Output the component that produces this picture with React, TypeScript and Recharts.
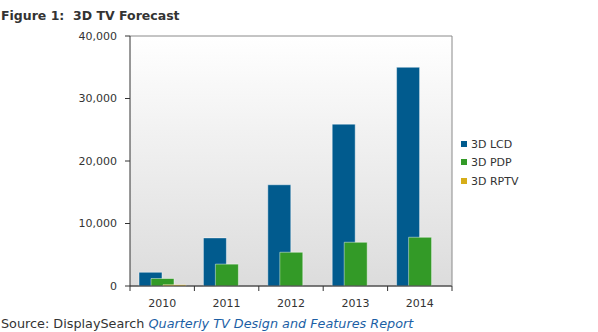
import React from 'react';
import { BarChart, Bar, XAxis, YAxis, CartesianGrid } from 'recharts';

const categories = ['2010', '2011', '2012', '2013', '2014'];
const lcdValues = [2200, 7700, 16200, 25900, 35000];
const pdpValues = [1200, 3500, 5400, 7000, 7800];
const rptvValues = [200, 0, 0, 0, 0];
const yTicks = [0, 10000, 20000, 30000, 40000];

const seriesNames = ['3D LCD', '3D PDP', '3D RPTV'];
const seriesKeys = ['lcd', 'pdp', 'rptv'];
const seriesColors = ['#015b8e', '#339a27', '#d6ad18'];

const data = categories.map((c, i) => ({
  year: c,
  lcd: lcdValues[i],
  pdp: pdpValues[i],
  rptv: rptvValues[i],
}));

const FONT = '"DejaVu Sans", Verdana, sans-serif';

const XTick = (props: any) => {
  const { x, y, payload, index, visibleTicksCount } = props;
  const half = payload && payload.offset ? payload.offset : 32.2;
  const isLast = index === (visibleTicksCount ?? categories.length) - 1;
  return (
    <g>
      <line x1={x - half} x2={x - half} y1={y} y2={y + 5} stroke="#333" strokeWidth={1} />
      {isLast && <line x1={x + half} x2={x + half} y1={y} y2={y + 5} stroke="#333" strokeWidth={1} />}
      <text x={x} y={y + 21} textAnchor="middle" fontSize={11} fill="#333" fontFamily={FONT}>
        {payload.value}
      </text>
    </g>
  );
};

export default function App() {
  return (
    <div style={{ position: 'absolute', left: 0, top: 0, width: 598, height: 332, background: '#fff', fontFamily: FONT, overflow: 'hidden' }}>
      <div style={{ position: 'absolute', left: 1, top: 8, fontSize: 12.5, lineHeight: '15px', fontWeight: 'bold', color: '#333', whiteSpace: 'pre' }}>
        {'Figure 1:  3D TV Forecast'}
      </div>
      <div style={{ position: 'absolute', left: 0, top: 0 }}>
        <BarChart
          width={598}
          height={332}
          data={data}
          margin={{ top: 36, right: 0, bottom: 0, left: 0 }}
          barSize={23}
          barGap={-11}
        >
          <defs>
            <linearGradient id="plotBg" x1="0" y1="0" x2="0" y2="1">
              <stop offset="0%" stopColor="#ffffff" />
              <stop offset="100%" stopColor="#dcdcdc" />
            </linearGradient>
          </defs>
          <CartesianGrid vertical={false} stroke="#8a8a8a" fill="url(#plotBg)" fillOpacity={1} />
          <XAxis
            dataKey="year"
            height={46}
            tickLine={false}
            tickSize={0}
            tickMargin={0}
            axisLine={{ stroke: '#333' }}
            tick={<XTick />}
            interval={0}
          />
          <YAxis
            yAxisId="left"
            width={130}
            domain={[0, 40000]}
            ticks={yTicks}
            tickFormatter={(v: number) => v.toLocaleString('en-US')}
            tickSize={5}
            tickMargin={8}
            tickLine={{ stroke: '#333' }}
            axisLine={{ stroke: '#333' }}
            tick={{ fontSize: 11, fill: '#333', fontFamily: FONT }}
          />
          <YAxis
            yAxisId="right"
            orientation="right"
            width={146}
            domain={[0, 40000]}
            tick={false}
            tickLine={false}
            axisLine={{ stroke: '#8a8a8a' }}
          />
          {seriesKeys.map((k, i) => (
            <Bar
              key={k}
              yAxisId="left"
              dataKey={k}
              name={seriesNames[i]}
              fill={seriesColors[i]}
              stroke="rgba(255,255,255,0.45)"
              strokeWidth={1}
              isAnimationActive={false}
            />
          ))}
        </BarChart>
      </div>
      {seriesNames.map((n, i) => (
        <div
          key={n}
          style={{ position: 'absolute', left: 461, top: 136.5 + i * 18.5, height: 15, lineHeight: '15px', fontSize: 11, color: '#333', whiteSpace: 'nowrap' }}
        >
          <span style={{ display: 'inline-block', width: 6, height: 6, background: seriesColors[i], marginRight: 4, verticalAlign: 'middle', position: 'relative', top: -1 }} />
          {n}
        </div>
      ))}
      <div style={{ position: 'absolute', left: 1, top: 316, fontSize: 12.8, lineHeight: '15px', color: '#333', whiteSpace: 'pre' }}>
        {'Source: DisplaySearch '}
        <span style={{ fontStyle: 'italic', color: '#1c5fa5' }}>Quarterly TV Design and Features Report</span>
      </div>
    </div>
  );
}
